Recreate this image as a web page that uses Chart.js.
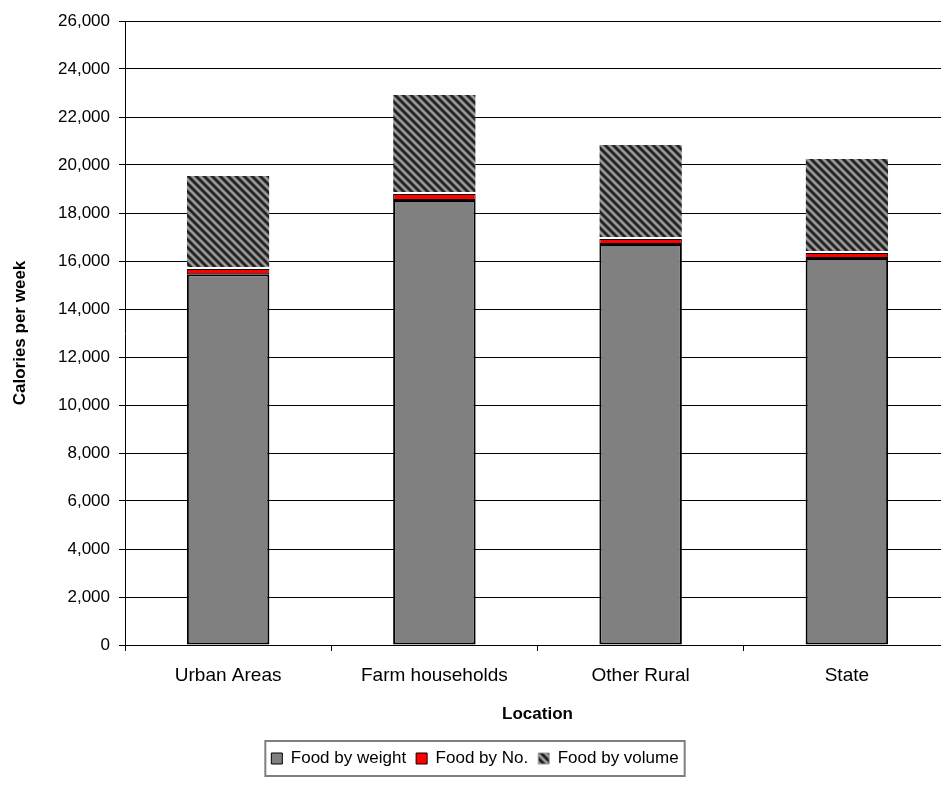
<!DOCTYPE html>
<html>
<head>
<meta charset="utf-8">
<script src="https://cdn.jsdelivr.net/npm/chart.js@4/dist/chart.umd.min.js"></script>
<style>
  html, body { margin: 0; padding: 0; background: #fff; overflow: hidden; }
  #wrap { position: relative; width: 955px; height: 792px; }
</style>
</head>
<body>
<div id="wrap"><canvas id="c"></canvas></div>
<script>
// Weekly calorie intake by location, split by how the food was measured
const categories = ['Urban Areas', 'Farm households', 'Other Rural', 'State'];
const foodByWeight = [15450, 18540, 16710, 16120];
const foodByNo = [220, 250, 210, 210];
const foodByVolume = [3870, 4130, 3910, 3920];
const yTickValues = [0, 2000, 4000, 6000, 8000, 10000, 12000, 14000, 16000, 18000, 20000, 22000, 24000, 26000];

// Diagonal dark hatch used for the "by volume" segment
function makeHatch() {
  const size = 8;
  const c = document.createElement('canvas');
  c.width = size; c.height = size;
  const g = c.getContext('2d');
  const shades = ['#a8a8a8', '#8a8a8a', '#5a5a5a', '#2c2c2c', '#161616', '#2c2c2c', '#5a5a5a', '#8a8a8a'];
  for (let y = 0; y < size; y++) {
    for (let x = 0; x < size; x++) {
      const d = ((x - y) % size + size) % size;
      g.fillStyle = shades[d];
      g.fillRect(x, y, 1, 1);
    }
  }
  return g.createPattern(c, 'repeat');
}
const hatch = makeHatch();

// Frame drawn round the legend items
const legendFrame = {
  id: 'legendFrame',
  afterDraw(chart) {
    const lg = chart.legend;
    if (!lg || !lg.legendHitBoxes.length) return;
    const hb = lg.legendHitBoxes;
    const first = hb[0], last = hb[hb.length - 1];
    const ctx = chart.ctx;
    ctx.save();
    ctx.strokeStyle = '#7f7f7f';
    ctx.lineWidth = 2;
    ctx.strokeRect(first.left - 6, first.top - 9, last.left + last.width - first.left + 12, first.height + 18);
    ctx.restore();
  }
};

Chart.defaults.font.family = '"Liberation Sans", Arial, sans-serif';
Chart.defaults.color = '#000';

new Chart(document.getElementById('c'), {
  type: 'bar',
  data: {
    labels: categories,
    datasets: [
      {
        label: 'Food by weight',
        data: foodByWeight,
        backgroundColor: '#808080',
        borderColor: '#000',
        borderWidth: 2,
        borderSkipped: false
      },
      {
        label: 'Food by No.',
        data: foodByNo,
        backgroundColor: '#ff0000',
        borderColor: '#000',
        borderWidth: 1,
        borderSkipped: false
      },
      {
        label: 'Food by volume',
        data: foodByVolume,
        backgroundColor: hatch,
        borderColor: '#fff',
        borderWidth: { top: 0, left: 0, right: 0, bottom: 2 },
        borderSkipped: false
      }
    ]
  },
  options: {
    responsive: true,
    maintainAspectRatio: false,
    animation: false,
    datasets: { bar: { barPercentage: 0.4, categoryPercentage: 1 } },
    layout: { padding: { top: 21, right: 5, bottom: 15, left: 0 } },
    plugins: {
      tooltip: { enabled: false },
      legend: {
        position: 'bottom',
        labels: {
          boxWidth: 11,
          boxHeight: 11,
          padding: 10,
          font: { size: 17 },
          generateLabels(chart) {
            return chart.data.datasets.map((ds, i) => ({
              text: ds.label,
              fillStyle: ds.backgroundColor,
              strokeStyle: i === 2 ? '#9a9a9a' : '#000',
              lineWidth: 1,
              datasetIndex: i,
              hidden: false
            }));
          }
        }
      }
    },
    scales: {
      x: {
        stacked: true,
        grid: { offset: true, drawOnChartArea: false, color: '#000', tickLength: 6 },
        border: { color: '#000', width: 1 },
        ticks: { font: { size: 19 }, padding: 13 },
        title: { display: true, text: 'Location', font: { size: 17, weight: 'bold' }, padding: { top: 0, bottom: 15 } },
        afterFit(s) { s.height = 95; }
      },
      y: {
        stacked: true,
        min: 0,
        max: 26000,
        afterBuildTicks(s) { s.ticks = yTickValues.map(v => ({ value: v })); },
        grid: { color: '#000', lineWidth: 1, tickLength: 6 },
        border: { color: '#000', width: 1 },
        ticks: {
          font: { size: 17 },
          padding: 9,
          callback: v => Number(v).toLocaleString('en-US')
        },
        title: { display: true, text: 'Calories per week', font: { size: 17, weight: 'bold' }, padding: { top: 10, bottom: 0 } },
        afterFit(s) { s.width = 125; }
      }
    }
  },
  plugins: [legendFrame]
});
</script>
</body>
</html>
